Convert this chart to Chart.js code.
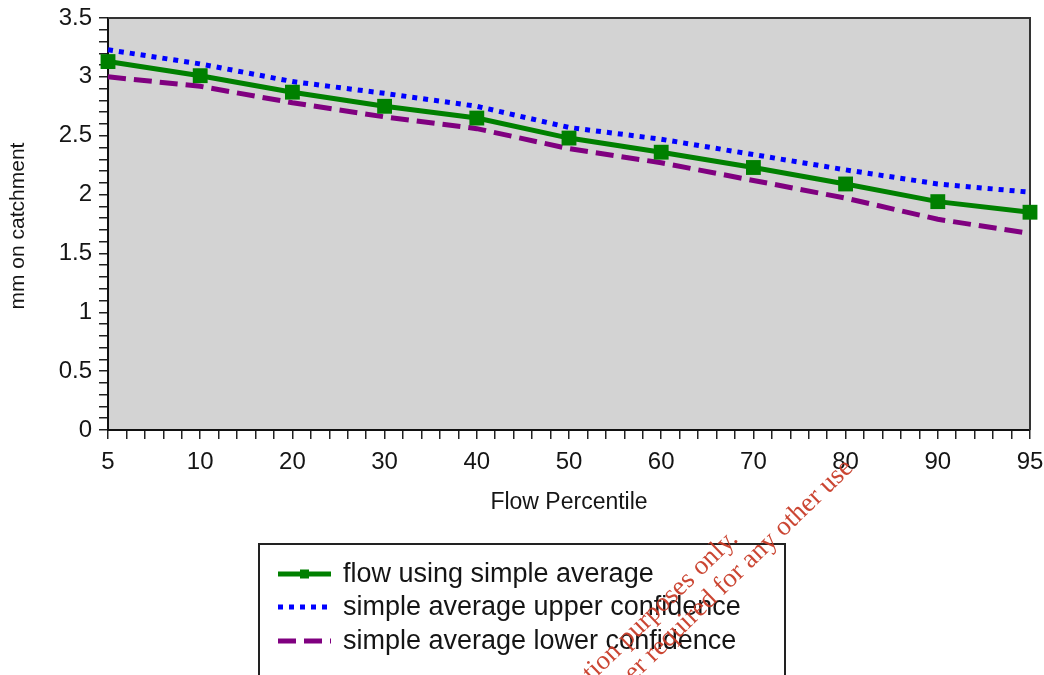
<!DOCTYPE html>
<html><head><meta charset="utf-8">
<script src="https://cdn.jsdelivr.net/npm/chart.js@4"></script>
<style>html,body{margin:0;padding:0;background:#fff;overflow:hidden}#wrap{position:relative;width:1044px;height:675px}</style>
</head><body><div id="wrap"><canvas id="c" width="1044" height="675"></canvas></div>
<script>
const categories = ['5','10','20','30','40','50','60','70','80','90','95'];
const flowSimpleAverage = [3.13,3.01,2.87,2.75,2.65,2.48,2.36,2.23,2.09,1.94,1.85];
const upperConfidence   = [3.23,3.11,2.96,2.86,2.75,2.57,2.47,2.34,2.21,2.09,2.02];
const lowerConfidence   = [3.00,2.92,2.78,2.66,2.56,2.39,2.27,2.12,1.97,1.79,1.67];
const seriesNames = ['flow using simple average','simple average upper confidence','simple average lower confidence'];
const yTickLabels = ['0','0.5','1','1.5','2','2.5','3','3.5'];
const xTitle = 'Flow Percentile';
const yTitle = 'mm on catchment';
const watermarkLines = ['For information purposes only.','Permission of the copyright owner required for any other use'];

const FONT = "'Liberation Sans', Arial, sans-serif";
const toPoints = arr => arr.map((v,i)=>({x:i,y:v}));

const GREEN='#008000', BLUE='#0000ff', PURPLE='#800080';

const plotDecor = {
  id:'plotDecor',
  beforeDraw(chart){
    const {ctx, chartArea:a} = chart;
    ctx.save();
    ctx.fillStyle='#d3d3d3';
    ctx.fillRect(a.left,a.top,a.right-a.left,a.bottom-a.top);
    ctx.restore();
  },
  beforeDatasetsDraw(chart){
    const {ctx, chartArea:a} = chart;
    ctx.save();
    ctx.strokeStyle='#333';
    ctx.lineWidth=2;
    ctx.beginPath();
    ctx.moveTo(a.left,a.top); ctx.lineTo(a.right,a.top); ctx.lineTo(a.right,a.bottom);
    ctx.stroke();
    ctx.restore();
  },
  afterDraw(chart){
    const {ctx} = chart;
    ctx.save();
    ctx.fillStyle='#151515';
    // axis titles
    ctx.font = "23px " + FONT;
    ctx.textAlign='center'; ctx.textBaseline='middle';
    ctx.fillText(xTitle, 569, 503);
    ctx.save();
    ctx.font = "21px " + FONT;
    ctx.translate(18, 226);
    ctx.rotate(-Math.PI/2);
    ctx.fillText(yTitle, 0, 0);
    ctx.restore();

    // legend
    ctx.strokeStyle='#222'; ctx.lineWidth=2;
    ctx.strokeRect(259,544,526,150);
    const rows=[574,607,641];
    const ds = chart.data.datasets;
    ds.forEach((d,i)=>{
      const y=rows[i];
      ctx.save();
      ctx.strokeStyle=d.borderColor; ctx.lineWidth=5; ctx.lineCap='butt';
      ctx.setLineDash(d.borderDash||[]);
      ctx.beginPath(); ctx.moveTo(278,y); ctx.lineTo(331,y); ctx.stroke();
      if(d.pointRadius>0){
        ctx.setLineDash([]);
        ctx.fillStyle=d.pointBackgroundColor;
        ctx.fillRect(300,y-4.5,9,9);
      }
      ctx.restore();
      ctx.fillStyle='#151515';
      ctx.font = "27px " + FONT;
      ctx.textAlign='left'; ctx.textBaseline='middle';
      ctx.fillText(d.label, 343, y+1);
    });

    // watermark
    ctx.save();
    ctx.translate(739,540);
    ctx.rotate(-44*Math.PI/180);
    ctx.fillStyle='rgba(200,60,40,0.95)';
    ctx.font = "27px 'Liberation Serif', 'Times New Roman', serif";
    ctx.textAlign='right'; ctx.textBaseline='alphabetic';
    ctx.fillText(watermarkLines[0], 0, 0);
    ctx.fillText(watermarkLines[1], 132, 29);
    ctx.restore();
    ctx.restore();
  }
};

new Chart(document.getElementById('c'), {
  type:'line',
  data:{
    datasets:[
      {label:seriesNames[0], data:toPoints(flowSimpleAverage), borderColor:GREEN, backgroundColor:GREEN,
       borderWidth:5, pointStyle:'rect', pointRadius:10.5, pointBackgroundColor:GREEN, pointBorderWidth:0,
       tension:0, clip:false, order:1},
      {label:seriesNames[1], data:toPoints(upperConfidence), borderColor:BLUE, backgroundColor:BLUE,
       borderWidth:5, borderDash:[5,6], pointRadius:0, tension:0, clip:false, order:3},
      {label:seriesNames[2], data:toPoints(lowerConfidence), borderColor:PURPLE, backgroundColor:PURPLE,
       borderWidth:5, borderDash:[18,8], pointRadius:0, tension:0, clip:false, order:2}
    ]
  },
  options:{
    responsive:false, animation:false, devicePixelRatio:1,
    layout:{padding:{left:0,top:18,right:14,bottom:0}},
    plugins:{legend:{display:false}, tooltip:{enabled:false}},
    scales:{
      x:{type:'linear', min:0, max:categories.length-1,
        afterFit(s){ s.height=245; s.paddingLeft=0; s.paddingRight=0; },
        grid:{drawOnChartArea:false, drawTicks:true, tickLength:9, color:'#222', lineWidth:1.5},
        border:{display:true, color:'#111', width:2},
        ticks:{stepSize:0.2, autoSkip:false, maxRotation:0, minRotation:0, padding:9, maxTicksLimit:200,
          color:'#151515', font:{family:FONT, size:24},
          callback(v){ const r=Math.round(v); return Math.abs(v-r)<1e-6 ? categories[r] : ''; }}
      },
      y:{type:'linear', min:0, max:3.5,
        afterFit(s){ s.width=108; s.paddingTop=0; s.paddingBottom=0; },
        grid:{drawOnChartArea:false, drawTicks:true, tickLength:9, color:'#222', lineWidth:1.5},
        border:{display:true, color:'#111', width:2},
        ticks:{stepSize:0.1, autoSkip:false, padding:7, maxTicksLimit:200,
          color:'#151515', font:{family:FONT, size:24},
          callback(v){ const k=Math.round(v*10); return k%5===0 ? yTickLabels[k/5] : ''; }}
      }
    }
  },
  plugins:[plotDecor]
});
</script></body></html>
